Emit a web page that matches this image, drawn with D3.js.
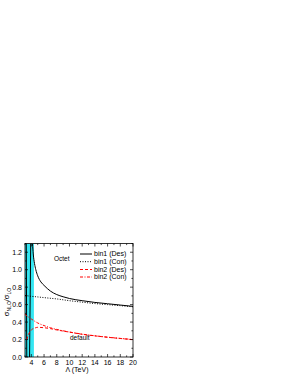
<!DOCTYPE html>
<html><head><meta charset="utf-8">
<script src="https://cdn.jsdelivr.net/npm/d3@7"></script>
<style>body{margin:0;background:#fff}svg{display:block}text{font-family:"Liberation Sans",Arial,sans-serif}</style>
</head><body>
<script>
const xTicks=[4,6,8,10,12,14,16,18,20];
const yTicks=[0.0,0.2,0.4,0.6,0.8,1.0,1.2];
const band=[3,4.4];
// bin1 (Des) solid black, main branch
const bin1DesL=[4.18,4.3,4.5,4.7,5,5.5,6,7,8,9,10,12,14,16,18,20];
const bin1DesV=[1.3,1.18,1.07,1.0,0.93,0.86,0.82,0.755,0.715,0.69,0.67,0.645,0.625,0.61,0.595,0.58];
// near-vertical branches inside band
const branchAL=[3.2,3.28];const branchAV=[1.3,0.0];
const branchBL=[3.9,3.72];const branchBV=[1.3,0.0];
// bin1 (Con) dotted black
const bin1ConL=[3,4,5,6,8,10,12,14,16,18,20];
const bin1ConV=[0.705,0.695,0.688,0.68,0.665,0.645,0.628,0.612,0.6,0.588,0.575];
// bin2 (Des) dashed red
const bin2DesL=[3.3,3.5,3.8,4,4.5,5,6,7,8,9,10,12,14,16,18,20];
const bin2DesV=[0.2,0.25,0.29,0.31,0.33,0.34,0.335,0.325,0.31,0.297,0.285,0.26,0.242,0.226,0.212,0.198];
// bin2 (Con) dash-dot red
const bin2ConL=[3,3.5,4,5,6,7,8,9,10,12,14,16,18,20];
const bin2ConV=[0.49,0.46,0.435,0.39,0.36,0.335,0.316,0.3,0.286,0.262,0.243,0.227,0.213,0.2];
const legendLabels=["bin1 (Des)","bin1 (Con)","bin2 (Des)","bin2 (Con)"];

const W=291,H=376;
const L=25,R=133,T=243.5,B=357;
const svg=d3.select("body").append("svg").attr("width",W).attr("height",H);
const x=d3.scaleLinear().domain([3,20]).range([L,R]);
const y=d3.scaleLinear().domain([0,1.3]).range([B,T]);

svg.append("defs").append("clipPath").attr("id","c").append("rect")
 .attr("x",L).attr("y",T).attr("width",R-L).attr("height",B-T);
const g=svg.append("g").attr("clip-path","url(#c)");
g.append("rect").attr("x",x(band[0])).attr("y",T).attr("width",x(band[1])-x(band[0])).attr("height",B-T).attr("fill","#33e6f2");

const line=d3.line().x(d=>x(d[0])).y(d=>y(d[1])).curve(d3.curveMonotoneX);
const lineL=d3.line().x(d=>x(d[0])).y(d=>y(d[1]));
function z(a,b){return a.map((v,i)=>[v,b[i]]);}
g.append("path").attr("d",lineL(z(branchAL,branchAV))).attr("fill","none").attr("stroke","#000").attr("stroke-width",1);
g.append("path").attr("d",lineL(z(branchBL,branchBV))).attr("fill","none").attr("stroke","#000").attr("stroke-width",1);
const styles=[
 {d:z(bin1DesL,bin1DesV),c:"#000",da:null},
 {d:z(bin1ConL,bin1ConV),c:"#000",da:"1,1.5"},
 {d:z(bin2DesL,bin2DesV),c:"#f00",da:"3,2"},
 {d:z(bin2ConL,bin2ConV),c:"#f00",da:"3,1.5,1,1.5"}
];
styles.forEach(s=>{
 g.append("path").attr("d",line(s.d)).attr("fill","none").attr("stroke",s.c).attr("stroke-width",1).attr("stroke-dasharray",s.da);
});

// frame
svg.append("rect").attr("x",L).attr("y",T).attr("width",R-L).attr("height",B-T).attr("fill","none").attr("stroke","#000").attr("stroke-width",0.8);

// axes ticks (inward)
const fs=7;
const xMinor=d3.range(3,20.01,1);
xMinor.forEach(v=>{
 const maj=v%2===0, len=maj?3:1.6;
 svg.append("line").attr("x1",x(v)).attr("x2",x(v)).attr("y1",B).attr("y2",B-len).attr("stroke","#000").attr("stroke-width",0.7);
 svg.append("line").attr("x1",x(v)).attr("x2",x(v)).attr("y1",T).attr("y2",T+len).attr("stroke","#000").attr("stroke-width",0.7);
});
const yMinor=d3.range(0,1.301,0.1);
yMinor.forEach((v,i)=>{
 const maj=i%2===0, len=maj?3:1.6;
 svg.append("line").attr("x1",L).attr("x2",L+len).attr("y1",y(v)).attr("y2",y(v)).attr("stroke","#000").attr("stroke-width",0.7);
 svg.append("line").attr("x1",R).attr("x2",R-len).attr("y1",y(v)).attr("y2",y(v)).attr("stroke","#000").attr("stroke-width",0.7);
});
xTicks.forEach(v=>{
 svg.append("text").attr("x",x(v)).attr("y",B+8).attr("text-anchor","middle").attr("font-size",fs).text(v);
});
yTicks.forEach(v=>{
 svg.append("text").attr("x",L-3).attr("y",y(v)+2.5).attr("text-anchor","end").attr("font-size",fs).text(v.toFixed(1));
});
// axis titles
svg.append("text").attr("x",(L+R)/2-2).attr("y",372).attr("text-anchor","middle").attr("font-size",fs).text("\u039B (TeV)");
const yl=svg.append("text").attr("transform","translate(9,302) rotate(-90)").attr("text-anchor","middle").attr("font-size",7.5);
yl.append("tspan").text("\u03C3");
yl.append("tspan").attr("font-size",5).attr("dy",1.5).text("NLO");
yl.append("tspan").attr("dy",-1.5).text("/\u03C3");
yl.append("tspan").attr("font-size",5).attr("dy",1.5).text("LO");

// annotations
svg.append("text").attr("x",54).attr("y",261).attr("font-size",6.5).text("Octet");
svg.append("text").attr("x",70).attr("y",340).attr("font-size",6.5).text("default");

// legend
const ly=[254,261.7,269.5,277];
styles.forEach((s,i)=>{
 svg.append("line").attr("x1",80).attr("x2",92).attr("y1",ly[i]).attr("y2",ly[i]).attr("stroke",s.c).attr("stroke-width",1).attr("stroke-dasharray",s.da);
 svg.append("text").attr("x",94).attr("y",ly[i]+2.4).attr("font-size",fs).text(legendLabels[i]);
});
</script>
</body></html>
